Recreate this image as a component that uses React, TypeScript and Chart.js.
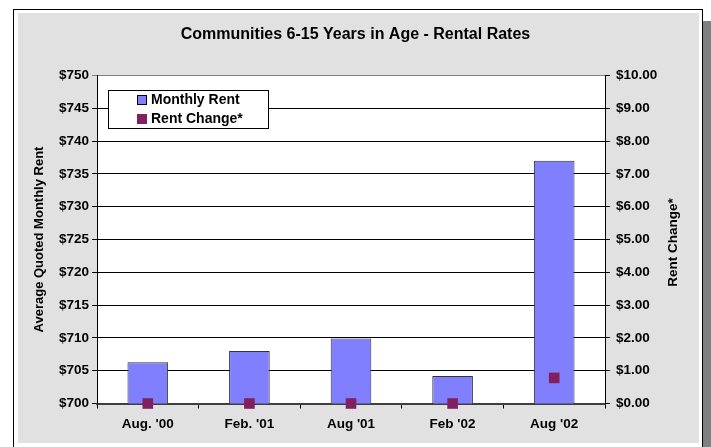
import React, { useEffect, useRef } from 'react';
import { Chart, registerables } from 'chart.js';

Chart.register(...registerables);

const TITLE = 'Communities 6-15 Years in Age - Rental Rates';
const CATEGORIES = ["Aug. '00", "Feb. '01", "Aug '01", "Feb '02", "Aug '02"];
const MONTHLY_RENT = [706.3, 708.0, 709.9, 704.2, 737.0];
const RENT_CHANGE = [0, 0, 0, 0, 0.78];
const LEFT_AXIS_TITLE = 'Average Quoted Monthly Rent';
const RIGHT_AXIS_TITLE = 'Rent Change*';
const SERIES_NAMES = ['Monthly Rent', 'Rent Change*'];

const BAR_COLOR = '#8080ff';
const MARK_COLOR = '#80205f';
const FONT = "'Liberation Sans', Arial, sans-serif";

const backgroundPlugin = {
  id: 'bgFrame',
  beforeDraw(chart: any) {
    const { ctx, width, height, chartArea } = chart;
    ctx.save();
    ctx.fillStyle = '#ffffff';
    ctx.fillRect(0, 0, width, height);
    ctx.fillStyle = '#808080';
    ctx.fillRect(703, 21, width - 703, height - 21);
    ctx.fillStyle = '#e1e1e1';
    ctx.fillRect(18, 13, 681, 430);
    ctx.strokeStyle = '#000000';
    ctx.lineWidth = 1;
    ctx.strokeRect(13.5, 9.5, 689, 445);
    ctx.fillStyle = '#ffffff';
    ctx.fillRect(chartArea.left, chartArea.top, chartArea.right - chartArea.left, chartArea.bottom - chartArea.top);
    ctx.restore();
  },
};

const overlayPlugin = {
  id: 'boxLegend',
  afterDraw(chart: any) {
    const { ctx, chartArea } = chart;
    const x = chartArea.left + 11;
    const y = chartArea.top + 14.5;
    ctx.save();
    ctx.fillStyle = '#ffffff';
    ctx.fillRect(x, y, 160, 39);
    ctx.strokeStyle = '#000000';
    ctx.lineWidth = 1;
    ctx.strokeRect(x + 0.5, y + 0.5, 160, 38);
    const ds = chart.data.datasets;
    const rows = [y + 10, y + 29];
    ds.forEach((d: any, i: number) => {
      const cy = rows[i];
      ctx.fillStyle = d.backgroundColor;
      ctx.fillRect(x + 29, cy - 5, 10, 10);
      if (i === 0) {
        ctx.strokeStyle = '#000';
        ctx.strokeRect(x + 29.5, cy - 4.5, 9, 9);
      }
      ctx.fillStyle = '#000';
      ctx.font = `bold 14px ${FONT}`;
      ctx.textBaseline = 'middle';
      ctx.textAlign = 'left';
      ctx.fillText(d.label, x + 43, cy + 0.5);
    });
    // right axis title, reading bottom-to-top
    const cyMid = (chartArea.top + chartArea.bottom) / 2 + 3;
    ctx.translate(673, cyMid);
    ctx.rotate(-Math.PI / 2);
    ctx.font = `bold 13.5px ${FONT}`;
    ctx.textAlign = 'center';
    ctx.textBaseline = 'middle';
    ctx.fillStyle = '#000';
    ctx.fillText(RIGHT_AXIS_TITLE, 0, 0);
    ctx.restore();
  },
};

export default function App() {
  const ref = useRef<HTMLCanvasElement | null>(null);
  useEffect(() => {
    if (!ref.current) return;
    Chart.defaults.font.family = FONT;
    Chart.defaults.color = '#000';
    const chart = new Chart(ref.current, {
      type: 'bar',
      data: {
        labels: CATEGORIES,
        datasets: [
          {
            type: 'bar',
            label: SERIES_NAMES[0],
            data: MONTHLY_RENT,
            backgroundColor: BAR_COLOR,
            borderColor: '#333333',
            borderWidth: 1,
            barPercentage: 0.4,
            categoryPercentage: 1,
            yAxisID: 'y',
            order: 2,
          } as any,
          {
            type: 'line',
            label: SERIES_NAMES[1],
            data: RENT_CHANGE,
            backgroundColor: MARK_COLOR,
            borderColor: MARK_COLOR,
            showLine: false,
            pointStyle: 'rect',
            pointRadius: 7.5,
            pointBorderWidth: 0,
            yAxisID: 'y1',
            order: 1,
            clip: false,
          } as any,
        ],
      },
      options: {
        responsive: false,
        animation: false,
        layout: { padding: 0 },
        plugins: {
          legend: { display: false },
          tooltip: { enabled: false },
          title: {
            display: true,
            text: TITLE,
            font: { size: 16, weight: 'bold', family: FONT },
            color: '#000',
            padding: { top: 25.4, bottom: 30.9 },
          },
        },
        scales: {
          x: {
            offset: true,
            grid: { drawOnChartArea: false, offset: true, tickLength: 5, color: '#000' },
            border: { color: '#404040', width: 2 },
            ticks: { font: { size: 13.5, weight: 'bold' }, padding: 7.5, maxRotation: 0 },
            afterFit(scale: any) { scale.height = 43.5; },
          },
          y: {
            position: 'left',
            min: 700,
            max: 750,
            ticks: {
              stepSize: 5,
              font: { size: 13.5, weight: 'bold' },
              padding: 3,
              callback: (v: any) => '$' + v,
            },
            grid: {
              color: (c: any) => (c.index === 10 ? '#808080' : '#000'),
              tickLength: 5,
              lineWidth: 1,
            },
            border: { color: '#000', width: 1 },
            title: {
              display: true,
              text: LEFT_AXIS_TITLE,
              font: { size: 13, weight: 'bold' },
              padding: { top: 32, bottom: 0 },
            },
            afterFit(scale: any) { scale.width = 97; },
          },
          y1: {
            position: 'right',
            min: 0,
            max: 10,
            ticks: {
              stepSize: 1,
              font: { size: 13.5, weight: 'bold' },
              padding: 6,
              callback: (v: any) => '$' + Number(v).toFixed(2),
            },
            grid: { drawOnChartArea: false, tickLength: 5, color: '#000' },
            border: { color: '#000', width: 1 },
            title: { display: false, text: RIGHT_AXIS_TITLE },
            afterFit(scale: any) { scale.width = 106; },
          },
        },
      },
      plugins: [backgroundPlugin, overlayPlugin],
    } as any);
    return () => chart.destroy();
  }, []);
  return (
    <div style={{ position: 'absolute', left: 0, top: 0, width: 711, height: 447 }}>
      <canvas ref={ref} width={711} height={447} />
    </div>
  );
}
